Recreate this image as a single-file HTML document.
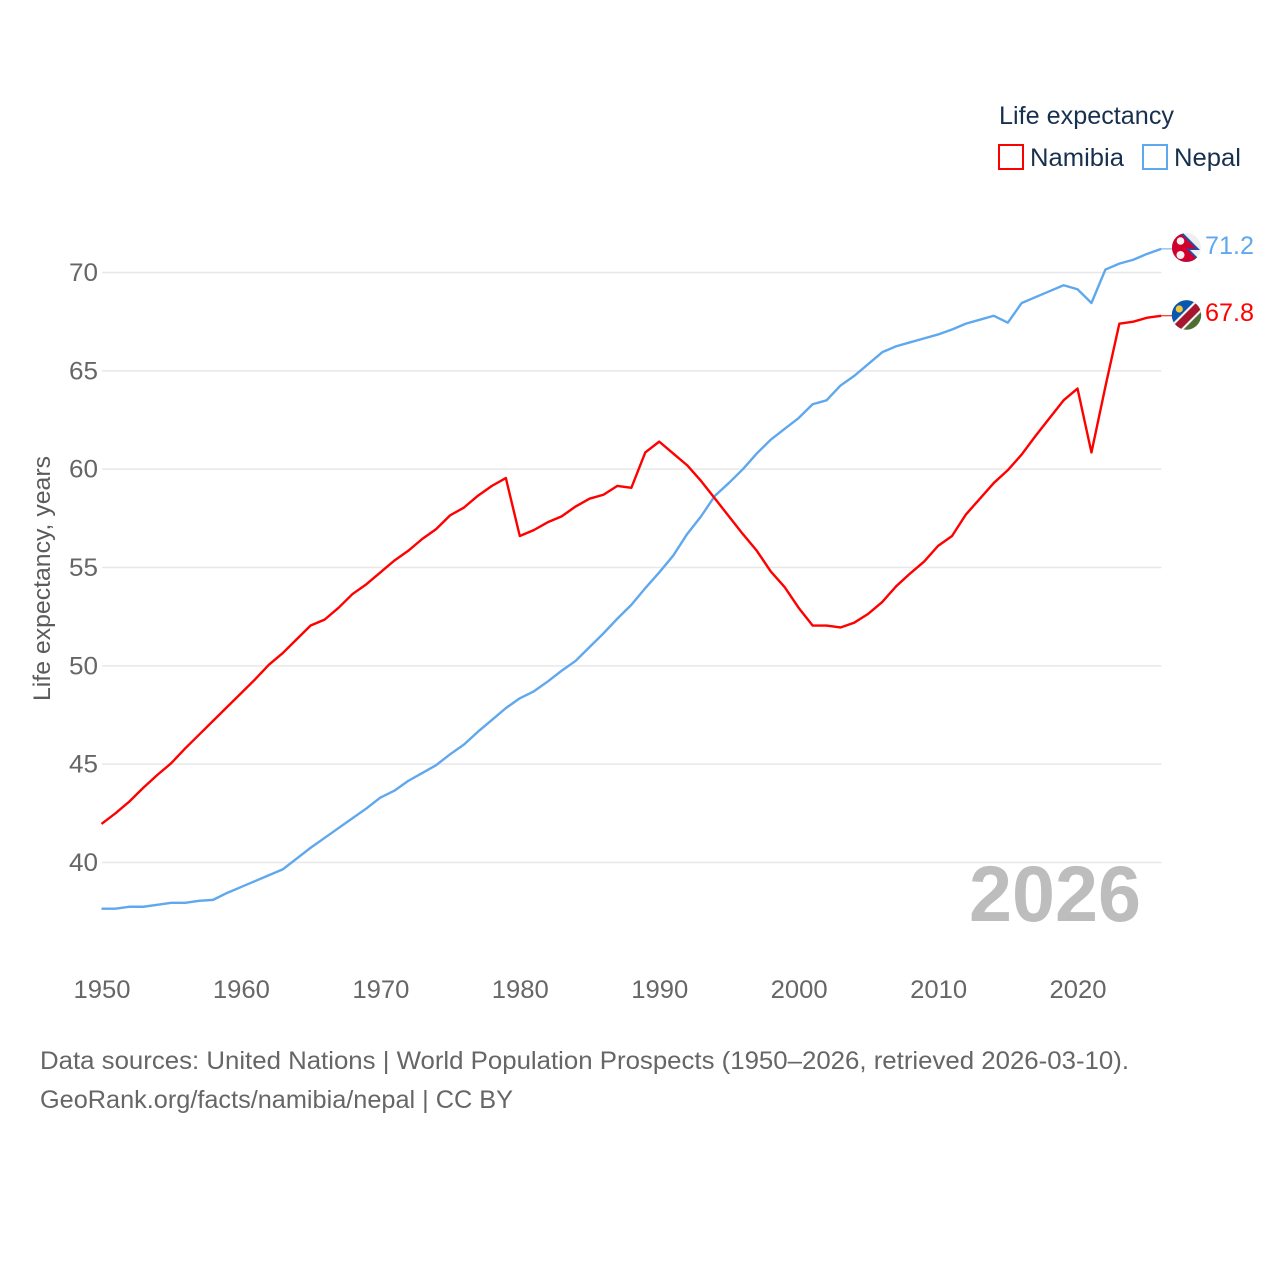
<!DOCTYPE html>
<html lang="en">
<head>
<meta charset="utf-8">
<title>Life expectancy: Namibia and Nepal</title>
<style>
html,body{margin:0;padding:0;background:#fff;}
svg{display:block;}
text{font-family:"Liberation Sans",sans-serif;}
</style>
</head>
<body>
<svg id="chart" width="1280" height="1280" viewBox="0 0 1280 1280" xmlns="http://www.w3.org/2000/svg">
  <defs>
    <clipPath id="flag-clip-a"><circle cx="1186.5" cy="247.5" r="14.5"/></clipPath>
    <clipPath id="flag-clip-b"><circle cx="1186.5" cy="315" r="14.7"/></clipPath>
  </defs>
  <rect x="0" y="0" width="1280" height="1280" fill="#ffffff"/>

  <g id="grid"></g>
  <g id="y-ticks"></g>
  <g id="x-ticks"></g>

  <text transform="translate(50,701) rotate(-90)" font-size="24" fill="#5b5b5b" textLength="245" lengthAdjust="spacingAndGlyphs">Life expectancy, years</text>

  <text x="969" y="921" font-size="79" font-weight="700" fill="#bdbdbd" textLength="172" lengthAdjust="spacingAndGlyphs">2026</text>

  <g id="series"></g>

  <g>
    <text x="999" y="124" font-size="25" fill="#18304f" textLength="175" lengthAdjust="spacingAndGlyphs">Life expectancy</text>
    <g>
      <rect x="999" y="145" width="24" height="24" fill="none" stroke="#ff0000" stroke-width="2"/>
      <text x="1030" y="166" font-size="25" fill="#18304f" textLength="94" lengthAdjust="spacingAndGlyphs">Namibia</text>
    </g>
    <g>
      <rect x="1143" y="145" width="24" height="24" fill="none" stroke="#5fa8ee" stroke-width="2"/>
      <text x="1174" y="166" font-size="25" fill="#18304f" textLength="67" lengthAdjust="spacingAndGlyphs">Nepal</text>
    </g>
  </g>

  <g clip-path="url(#flag-clip-a)">
    <circle cx="1186.5" cy="247.5" r="14.5" fill="#efefef"/>
    <polygon points="1170,231 1182,232 1200,250 1190,250 1202,262 1170,264" fill="#1d4fa8"/>
    <polygon points="1170,231 1181,234 1196,248.5 1186,248.5 1198,260.5 1170,263" fill="#d3002c"/>
    <circle cx="1180.5" cy="241" r="3.8" fill="#f2f2f2"/>
    <circle cx="1180.5" cy="255" r="4" fill="#f2f2f2"/>
  </g>

  <g clip-path="url(#flag-clip-b)">
    <rect x="1170" y="299" width="34" height="33" fill="#4d6e32"/>
    <polygon points="1170,298 1200,298 1170,328" fill="#0a57b0"/>
    <polygon points="1170,326 1200,296 1213,300 1183,330" fill="#f4f4f4"/>
    <polygon points="1170,329 1200,299 1210,300 1180,330" fill="#a6162f"/>
    <circle cx="1179.3" cy="309" r="3.6" fill="#f5c83a"/>
  </g>

  <text x="1205" y="254" font-size="25" fill="#5fa8ee" textLength="49" lengthAdjust="spacingAndGlyphs">71.2</text>
  <text x="1205" y="321" font-size="25" fill="#ff0000" textLength="49" lengthAdjust="spacingAndGlyphs">67.8</text>

  <g>
    <text x="40" y="1069" font-size="25" fill="#666666" textLength="1089" lengthAdjust="spacingAndGlyphs">Data sources: United Nations | World Population Prospects (1950–2026, retrieved 2026-03-10).</text>
    <text x="40" y="1108" font-size="25" fill="#666666" textLength="473" lengthAdjust="spacingAndGlyphs">GeoRank.org/facts/namibia/nepal | CC BY</text>
  </g>
</svg>
<script>
const startYear = 1950;
const namibiaValues = [41.96,42.5,43.1,43.8,44.45,45.05,45.8,46.5,47.2,47.9,48.6,49.3,50.05,50.65,51.35,52.05,52.35,52.95,53.65,54.15,54.75,55.35,55.85,56.45,56.95,57.65,58.05,58.65,59.15,59.55,56.6,56.9,57.3,57.6,58.1,58.5,58.7,59.15,59.05,60.85,61.4,60.8,60.2,59.4,58.5,57.6,56.7,55.85,54.8,54,52.95,52.05,52.05,51.95,52.2,52.65,53.25,54.05,54.7,55.3,56.1,56.6,57.7,58.5,59.3,59.95,60.75,61.7,62.6,63.5,64.1,60.85,64.2,67.4,67.5,67.7,67.8];
const nepalValues = [37.65,37.65,37.75,37.75,37.85,37.95,37.95,38.05,38.1,38.45,38.75,39.05,39.35,39.65,40.2,40.75,41.25,41.75,42.25,42.75,43.3,43.65,44.15,44.55,44.95,45.5,46,46.65,47.25,47.85,48.35,48.7,49.2,49.75,50.25,50.95,51.65,52.4,53.1,53.95,54.75,55.6,56.7,57.6,58.65,59.3,60,60.8,61.5,62.05,62.6,63.3,63.5,64.25,64.75,65.35,65.95,66.25,66.45,66.65,66.85,67.1,67.4,67.6,67.8,67.45,68.45,68.75,69.05,69.35,69.15,68.45,70.15,70.45,70.65,70.95,71.2];
const yTickValues = [40,45,50,55,60,65,70];
const xTickValues = [1950,1960,1970,1980,1990,2000,2010,2020];

const SVG_NS = 'http://www.w3.org/2000/svg';
function xScale(year){ return 101.5 + (year - 1950) * 13.943; }
function yScale(value){ return 862.5 - (value - 40) * (862.5 - 272.5) / 30; }
function make(tag, attrs, parent){
  const el = document.createElementNS(SVG_NS, tag);
  for (const k in attrs) el.setAttribute(k, attrs[k]);
  parent.appendChild(el);
  return el;
}

const gridGroup = document.getElementById('grid');
const yGroup = document.getElementById('y-ticks');
yTickValues.forEach(function(v){
  const line = make('line', {x1:102, x2:1161.5, y1:yScale(v), y2:yScale(v), stroke:'#e8e8e8', 'stroke-width':1.5}, gridGroup);
  
  
  const label = make('text', {x:98, y:yScale(v) + 8.5, 'text-anchor':'end', 'font-size':25, fill:'#666666', textLength:29, lengthAdjust:'spacingAndGlyphs'}, yGroup);
  label.textContent = String(v);
  
  
});

const xGroup = document.getElementById('x-ticks');
xTickValues.forEach(function(year){
  const label = make('text', {x:xScale(year) + 0.5, y:998, 'text-anchor':'middle', 'font-size':25, fill:'#666666', textLength:57, lengthAdjust:'spacingAndGlyphs'}, xGroup);
  label.textContent = String(year);
  
  
});

function linePoints(values){
  return values.map(function(v, i){
    return xScale(startYear + i).toFixed(2) + ',' + yScale(v).toFixed(2);
  }).join(' ');
}

const seriesGroup = document.getElementById('series');

const nepalLine = make('polyline', {points:linePoints(nepalValues), fill:'none', stroke:'#5fa8ee', 'stroke-width':2.4, 'stroke-linejoin':'round'}, seriesGroup);



const namibiaLine = make('polyline', {points:linePoints(namibiaValues), fill:'none', stroke:'#ff0000', 'stroke-width':2.4, 'stroke-linejoin':'round'}, seriesGroup);



const nepalLast = yScale(nepalValues[nepalValues.length - 1]);
const nepalConnector = make('line', {x1:1161, x2:1172, y1:nepalLast, y2:nepalLast, stroke:'#5fa8ee', 'stroke-width':1}, seriesGroup);



const namibiaLast = yScale(namibiaValues[namibiaValues.length - 1]);
const namibiaConnector = make('line', {x1:1161, x2:1172, y1:namibiaLast, y2:namibiaLast, stroke:'#ff0000', 'stroke-width':1}, seriesGroup);


</script>
</body>
</html>
